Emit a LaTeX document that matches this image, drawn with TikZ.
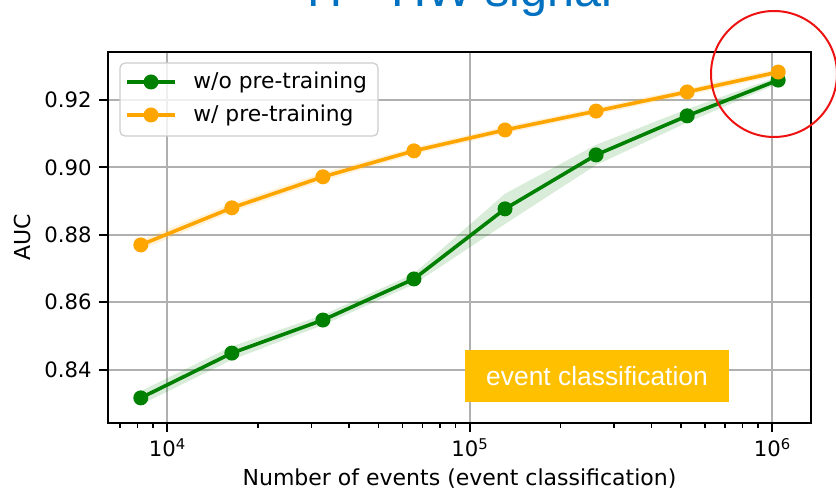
\documentclass[tikz,border=0pt]{standalone}
\usepackage{fontspec}
\setmainfont{DejaVu Sans}
\newfontfamily\slidefont{Liberation Sans}
\usetikzlibrary{positioning}
\definecolor{mplgreen}{HTML}{008000}
\definecolor{mplorange}{HTML}{FFA500}
\definecolor{gridgray}{HTML}{B0B0B0}
\definecolor{legframe}{HTML}{CCCCCC}
\definecolor{titleblue}{HTML}{0070C0}
\definecolor{tagyellow}{HTML}{FFC000}
\definecolor{ringred}{HTML}{EE1111}
\tikzset{
  gridline/.style={draw=gridgray,line width=1pt},
  frame/.style={draw=black,line width=1pt},
  majortick/.style={line width=1pt},
  minortick/.style={line width=0.75pt},
  ticklabel/.style={font=\fontsize{10.6}{12}\selectfont,inner sep=0pt},
  axislabel/.style={font=\fontsize{11}{12}\selectfont,inner sep=0pt},
  series/.style={line width=1.8pt},
  marker/.style={circle,inner sep=0pt,minimum size=7.5pt},
  band/.style={opacity=0.15},
  legendbox/.style={draw=legframe,fill=white,fill opacity=0.8,rounded corners=2.5pt,line width=0.6pt},
  legendtext/.style={font=\fontsize{10.9}{12}\selectfont,inner sep=0pt,anchor=base west},
  tagbox/.style={fill=tagyellow,text=white,inner sep=0pt,font=\slidefont\fontsize{13.2}{15}\selectfont},
  ring/.style={circle,draw=ringred,line width=1pt,inner sep=0pt},
}

\begin{document}
\begin{tikzpicture}[x=0.5pt,y=-0.5pt,
  declare function={lx(\t)=167+(\t-4)*302.5; py(\v)=100+(0.92-\v)*3370;}]
  \clip (0,0) rectangle (836,496);

  % grid
  \foreach \t in {4,5,6}
    \draw[gridline] ({lx(\t)},52) -- ({lx(\t)},423);
  \foreach \v in {0.84,0.86,0.88,0.90,0.92}
    \draw[gridline] (108,{py(\v)}) -- (811,{py(\v)});

  % data points (2^13 ... 2^20 events)
  \foreach \k/\v in {13/0.8316,14/0.8449,15/0.8547,16/0.8669,17/0.8877,18/0.9037,19/0.9153,20/0.9259}
    \coordinate (g\k) at ({lx(\k*0.30103)},{py(\v)});
  \foreach \k/\v in {13/0.8770,14/0.8880,15/0.8972,16/0.9049,17/0.9111,18/0.9167,19/0.9224,20/0.9283}
    \coordinate (o\k) at ({lx(\k*0.30103)},{py(\v)});

  % spread bands
  \fill[band,mplgreen] (g13)
    \foreach \k/\v/\s in {13/0.8316/0.002,14/0.8449/0.002,15/0.8547/0.0015,16/0.8669/0.0016,17/0.8877/0.0045,18/0.9037/0.003,19/0.9153/0.002,20/0.9259/0.001}
      { -- ({lx(\k*0.30103)},{py(\v+\s)}) }
    \foreach \k/\v/\s in {20/0.9259/0.001,19/0.9153/0.002,18/0.9037/0.003,17/0.8877/0.0045,16/0.8669/0.0016,15/0.8547/0.0015,14/0.8449/0.002,13/0.8316/0.002}
      { -- ({lx(\k*0.30103)},{py(\v-\s)}) } -- cycle;
  \fill[band,mplorange] (o13)
    \foreach \k/\v/\s in {13/0.8770/0.0015,14/0.8880/0.0012,15/0.8972/0.0012,16/0.9049/0.001,17/0.9111/0.001,18/0.9167/0.001,19/0.9224/0.001,20/0.9283/0.001}
      { -- ({lx(\k*0.30103)},{py(\v+\s)}) }
    \foreach \k/\v/\s in {20/0.9283/0.001,19/0.9224/0.001,18/0.9167/0.001,17/0.9111/0.001,16/0.9049/0.001,15/0.8972/0.0012,14/0.8880/0.0012,13/0.8770/0.0015}
      { -- ({lx(\k*0.30103)},{py(\v-\s)}) } -- cycle;

  % curves
  \draw[series,mplgreen] (g13) -- (g14) -- (g15) -- (g16) -- (g17) -- (g18) -- (g19) -- (g20);
  \foreach \k in {13,...,20}
    \node[marker,fill=mplgreen] (gm\k) at (g\k) {};
  \draw[series,mplorange] (o13) -- (o14) -- (o15) -- (o16) -- (o17) -- (o18) -- (o19) -- (o20);
  \foreach \k in {13,...,20}
    \node[marker,fill=mplorange] (om\k) at (o\k) {};

  % axes
  \draw[frame] (108,52) rectangle (811,423);
  \foreach \t in {4,5,6} {
    \draw[majortick] ({lx(\t)},423) -- ++(0,8.75);
    \node[ticklabel,anchor=base] (xt\t) at ({lx(\t)},457)
      {10\raisebox{3.6pt}{\fontsize{7.4}{8}\selectfont\t}};
  }
  \foreach \m in {7,8,9}
    \draw[minortick] ({lx(3+log10(\m))},423) -- ++(0,5);
  \foreach \d in {4,5}
    \foreach \m in {2,...,9}
      \draw[minortick] ({lx(\d+log10(\m))},423) -- ++(0,5);
  \foreach \v [count=\i] in {0.84,0.86,0.88,0.90,0.92} {
    \draw[majortick] (108,{py(\v)}) -- ++(-8.75,0);
    \node[ticklabel,anchor=east] (yt\i) at (92,{py(\v)}) {\v};
  }
  \node[axislabel,anchor=base] (xlabel) at (459.5,486) {Number of events (event classification)};
  \node[axislabel,rotate=90] (ylabel) at (22,237.5) {AUC};

  % legend
  \node[legendbox,minimum width=129pt,minimum height=36.5pt] (legend) at (249,99.5) {};
  \draw[series,mplgreen] (127,82) -- (175,82);
  \node[marker,fill=mplgreen] (leggreen) at (151,82) {};
  \node[legendtext] (legtextg) at (193,89) {w/o pre-training};
  \draw[series,mplorange] (127,115) -- (175,115);
  \node[marker,fill=mplorange] (legorange) at (151,115) {};
  \node[legendtext] (legtexto) at (193,122) {w/ pre-training};

  % slide overlays
  \node[tagbox,minimum width=132pt,minimum height=26pt] (tag) at (597,376) {event classification};
  \node[ring,minimum size=63pt] (highlight) at (774,74) {};
  \node[anchor=base west,inner sep=0pt,text=titleblue,font=\slidefont\fontsize{24.3}{29}\selectfont]
    (title) at (307,7) {H\raisebox{0.45em}{→}HW signal};
\end{tikzpicture}
\end{document}
